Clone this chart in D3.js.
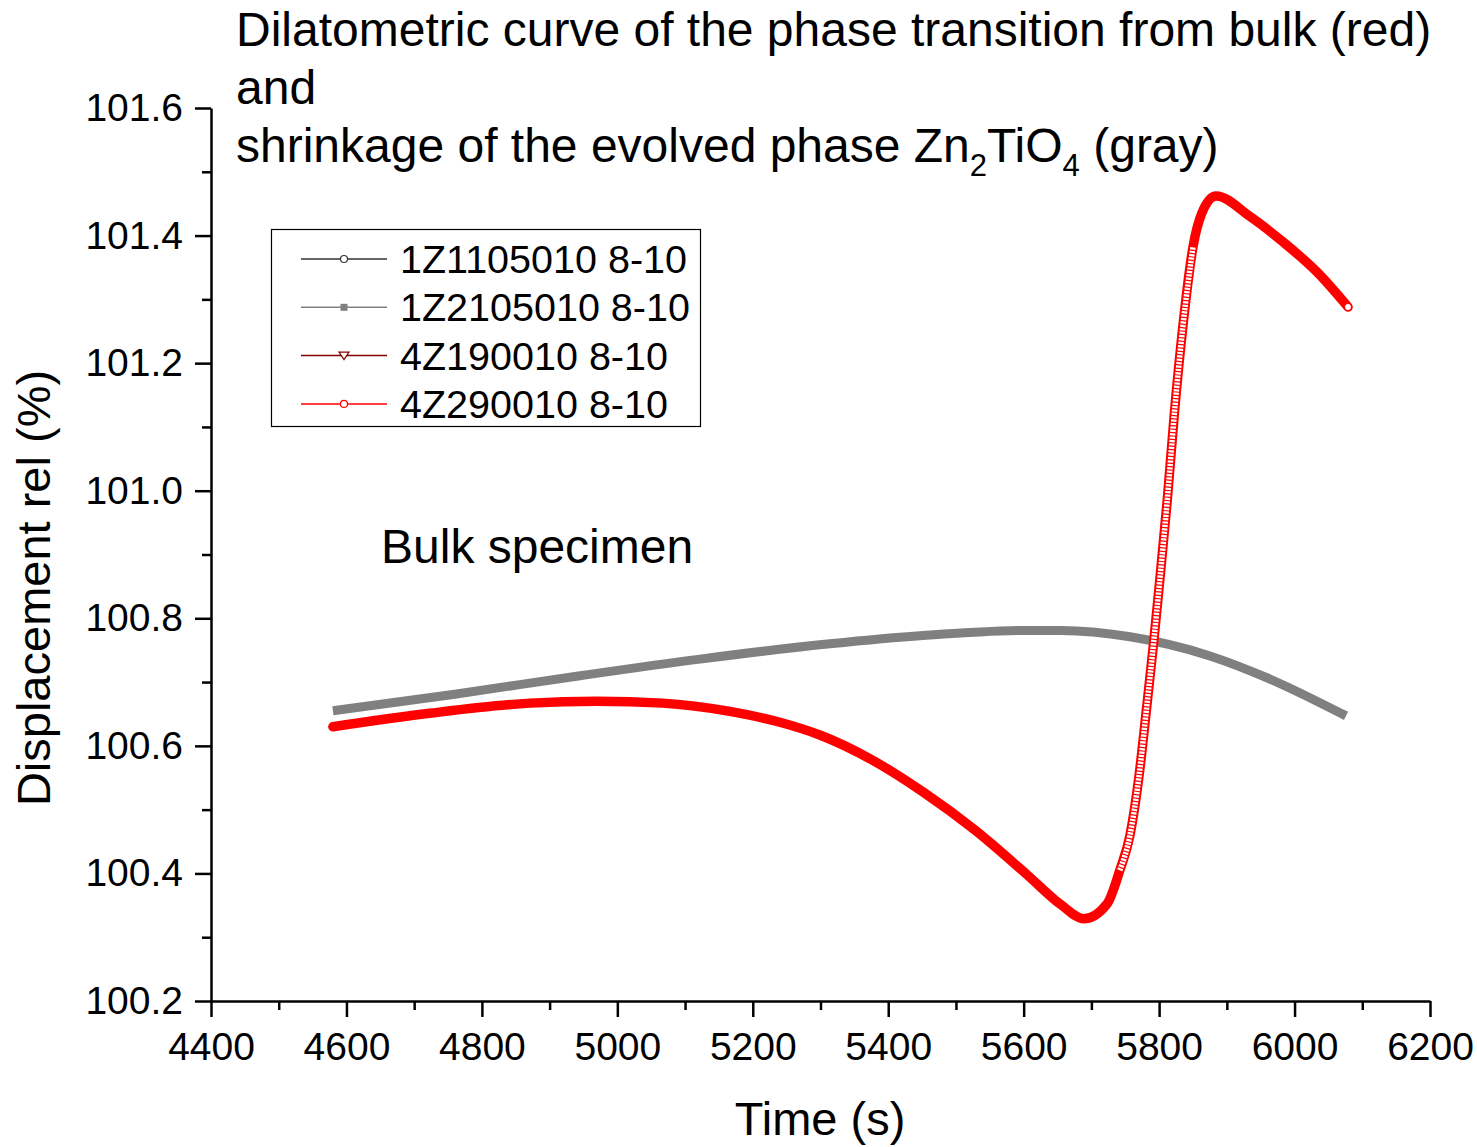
<!DOCTYPE html>
<html>
<head>
<meta charset="utf-8">
<script src="https://cdn.jsdelivr.net/npm/d3@7"></script>
<style>
  body { margin: 0; background: #fff; }
  text { font-family: "Liberation Sans", Arial, sans-serif; fill: #000; }
</style>
</head>
<body>
<svg id="chart" width="1477" height="1147"></svg>
<script>
// axis ranges and ticks
const timeDomain = [4400, 6200];
const dispDomain = [100.2, 101.6];
const timeTicks = [4400, 4600, 4800, 5000, 5200, 5400, 5600, 5800, 6000, 6200];
const timeMinor = [4500, 4700, 4900, 5100, 5300, 5500, 5700, 5900, 6100];
const dispTicks = [100.2, 100.4, 100.6, 100.8, 101.0, 101.2, 101.4, 101.6];
const dispMinor = [100.3, 100.5, 100.7, 100.9, 101.1, 101.3, 101.5];

// 4Z290010 8-10 (red, bulk)
const redTime = [4580, 4723, 4871, 4970, 5067, 5166, 5240, 5299, 5376, 5451, 5528, 5605, 5655,
  5689, 5723, 5742, 5757, 5770, 5782, 5792, 5801, 5812, 5823, 5835, 5850, 5863, 5884,
  5934, 5983, 6033, 6079];
const redDisp = [100.630, 100.651, 100.667, 100.670, 100.667, 100.654, 100.637, 100.617, 100.578,
  100.528, 100.468, 100.398, 100.351, 100.329, 100.352, 100.405, 100.460, 100.550,
  100.664, 100.763, 100.860, 100.985, 101.127, 101.257, 101.382, 101.435, 101.462, 101.430,
  101.390, 101.343, 101.288];

// 1Z2105010 8-10 (gray, Zn2TiO4)
const grayTime = [4580, 4760, 4945, 5122, 5314, 5451, 5605, 5655, 5757, 5875, 5961, 6076];
const grayDisp = [100.655, 100.681, 100.710, 100.736, 100.760, 100.773, 100.781, 100.781,
  100.771, 100.741, 100.706, 100.647];

// legend
const seriesNames = ["1Z1105010 8-10", "1Z2105010 8-10", "4Z190010 8-10", "4Z290010 8-10"];
const seriesColors = ["#333333", "#808080", "#800000", "#ff0000"];
const seriesSymbols = ["circle", "square", "triangle", "circle"];

const svg = d3.select("#chart");

const x = d3.scaleLinear().domain(timeDomain).range([211, 1430]);
const y = d3.scaleLinear().domain(dispDomain).range([1001, 108]);

// axes
const axisFont = 39;
const xAxis = svg.append("g").attr("transform", "translate(0,1001)")
  .call(d3.axisBottom(x).tickValues(timeTicks).tickSize(16).tickSizeOuter(0).tickPadding(6)
    .tickFormat(d3.format("d")));
svg.append("g").attr("transform", "translate(0,1001)")
  .call(d3.axisBottom(x).tickValues(timeMinor).tickSize(9).tickFormat(""))
  .select(".domain").remove();
svg.append("g").attr("transform", "translate(211,0)")
  .call(d3.axisLeft(y).tickValues(dispTicks).tickSize(16).tickSizeOuter(0).tickPadding(12)
    .tickFormat(d3.format(".1f")));
svg.append("g").attr("transform", "translate(211,0)")
  .call(d3.axisLeft(y).tickValues(dispMinor).tickSize(9).tickFormat(""))
  .select(".domain").remove();

svg.selectAll(".domain, .tick line").attr("stroke", "#000").attr("stroke-width", 2.5);
svg.selectAll(".tick text").attr("font-size", axisFont)
  .attr("font-family", "'Liberation Sans', Arial, sans-serif").attr("fill", "#000");
xAxis.selectAll(".tick text").attr("dy", "0.95em");

// axis titles
svg.append("text").attr("x", 820).attr("y", 1135).attr("text-anchor", "middle")
  .attr("font-size", 47).text("Time (s)");
svg.append("text").attr("transform", "translate(50,588) rotate(-90)").attr("text-anchor", "middle")
  .attr("font-size", 47).text("Displacement rel (%)");

// title
const title = svg.append("text").attr("font-size", 48);
title.append("tspan").attr("x", 236).attr("y", 46)
  .text("Dilatometric curve of the phase transition from bulk (red)");
title.append("tspan").attr("x", 236).attr("y", 104).text("and");
const t3 = svg.append("text").attr("x", 236).attr("y", 162).attr("font-size", 48);
t3.append("tspan").text("shrinkage of the evolved phase Zn");
t3.append("tspan").attr("font-size", 31).attr("dy", 14).text("2");
t3.append("tspan").attr("dy", -14).text("TiO");
t3.append("tspan").attr("font-size", 31).attr("dy", 14).text("4");
t3.append("tspan").attr("dy", -14).text(" (gray)");

svg.append("text").attr("x", 381).attr("y", 563).attr("font-size", 48).text("Bulk specimen");

// curves
const line = d3.line().x(d => x(d[0])).y(d => y(d[1])).curve(d3.curveMonotoneX);
const grayData = d3.zip(grayTime, grayDisp);
const redData = d3.zip(redTime, redDisp);

svg.append("path").attr("d", line(grayData)).attr("fill", "none")
  .attr("stroke", "#808080").attr("stroke-width", 9).attr("stroke-linecap", "butt");

svg.append("path").attr("d", line(redData)).attr("fill", "none")
  .attr("stroke", "#ff0000").attr("stroke-width", 9.5).attr("stroke-linecap", "round");

// the steep part: markers are spread apart and look like a chain of rings
const steep = redData.filter(d => d[0] >= 5742 && d[0] <= 5856);
svg.append("path").attr("d", line(steep)).attr("fill", "none")
  .attr("stroke", "#fff").attr("stroke-width", 5.5).attr("stroke-dasharray", "2.2,1.2");

// last red marker
const last = redData[redData.length - 1];
svg.append("circle").attr("cx", x(last[0])).attr("cy", y(last[1])).attr("r", 3.5)
  .attr("fill", "#fff").attr("stroke", "#ff0000").attr("stroke-width", 1.2);

// legend
const legend = svg.append("g");
legend.append("rect").attr("x", 271.5).attr("y", 229.5).attr("width", 429).attr("height", 197)
  .attr("fill", "#fff").attr("stroke", "#000").attr("stroke-width", 1.2);
const rows = legend.selectAll("g.row").data(seriesNames).join("g")
  .attr("transform", (d, i) => `translate(0,${259 + i * 48.3})`);
rows.append("line").attr("x1", 301).attr("x2", 387)
  .attr("stroke", (d, i) => seriesColors[i]).attr("stroke-width", 1.5);
rows.each(function (d, i) {
  const g = d3.select(this);
  const c = seriesColors[i];
  if (seriesSymbols[i] === "circle") {
    g.append("circle").attr("cx", 344).attr("r", 3.5).attr("fill", "#fff")
      .attr("stroke", c).attr("stroke-width", 1.2);
  } else if (seriesSymbols[i] === "square") {
    g.append("rect").attr("x", 340.5).attr("y", -3.5).attr("width", 7).attr("height", 7).attr("fill", c);
  } else {
    g.append("path").attr("d", "M339,-3.5 L349,-3.5 L344,4 Z").attr("fill", "#fff")
      .attr("stroke", c).attr("stroke-width", 1.2);
  }
});
rows.append("text").attr("x", 400).attr("y", 14).attr("font-size", 39.5).text(d => d);
</script>
</body>
</html>
